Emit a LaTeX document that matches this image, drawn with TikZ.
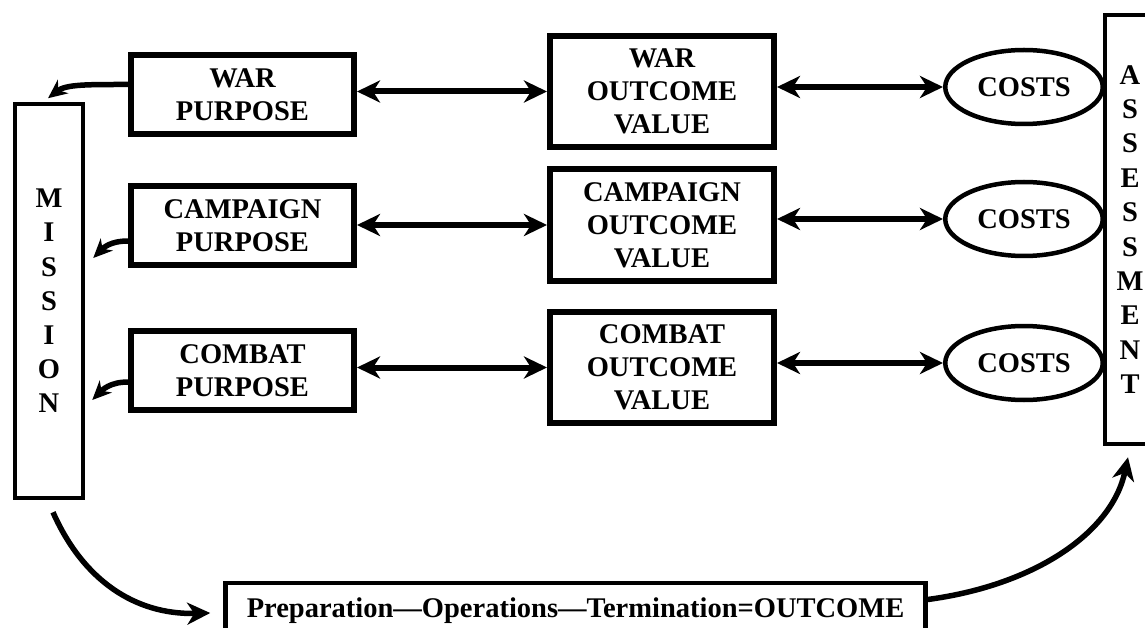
\documentclass[tikz,border=0pt]{standalone}
\usepackage{fontspec}
\setmainfont{Liberation Serif}
\usetikzlibrary{shapes.geometric,arrows.meta,calc}

\begin{document}
\begin{tikzpicture}[x=1pt,y=-1pt,
  txt/.style={font=\bfseries\fontsize{28.5}{33}\selectfont, align=center, inner sep=0pt},
  pbox/.style={txt, draw, line width=6pt, minimum width=223pt, minimum height=79pt},
  obox/.style={txt, draw, line width=6pt, minimum width=224pt, minimum height=111pt},
  costs/.style={txt, draw, ellipse, line width=4.5pt, minimum width=157.5pt, minimum height=74pt},
  tallbox/.style={draw, line width=4.5pt, align=center, inner sep=0pt},
  letters/.style={font=\bfseries\fontsize{28.5}{#1}\selectfont},
  flowbox/.style={txt, draw, line width=4.5pt, minimum width=700pt, minimum height=55pt},
  bigtip/.tip={Stealth[length=23pt,width=22pt,inset=7pt]},
  smalltip/.tip={Stealth[length=19pt,width=17pt,inset=6pt]},
  link/.style={line width=6pt, bigtip-bigtip},
  feed/.style={line width=5.5pt, -smalltip},
  loop/.style={line width=5.5pt, -bigtip}
]
\useasboundingbox (0,0) rectangle (1145,628);
\clip (0,0) rectangle (1145,628);
\fill[white] (0,0) rectangle (1145,628);

% side columns
\node[tallbox, letters=34.2, minimum width=68pt, minimum height=394pt] (mi) at (49,301)
  {M\\I\\S\\S\\I\\O\\N};
\node[tallbox, letters=34.4, minimum width=50pt, minimum height=429pt] (as) at (1130,229.5)
  {A\\S\\S\\E\\S\\S\\M\\E\\N\\T};

% purpose boxes
\node[pbox] (wp) at (242.5,94.5) {WAR\\PURPOSE};
\node[pbox] (cp) at (242.5,226) {CAMPAIGN\\PURPOSE};
\node[pbox] (bp) at (242.5,370.5) {COMBAT\\PURPOSE};

% outcome value boxes
\node[obox] (wo) at (662,91.5) {WAR\\OUTCOME\\VALUE};
\node[obox] (co) at (662,225) {CAMPAIGN\\OUTCOME\\VALUE};
\node[obox] (bo) at (662,367.5) {COMBAT\\OUTCOME\\VALUE};

% cost ellipses
\node[costs] (c1) at (1024,87) {COSTS};
\node[costs] (c2) at (1024,219) {COSTS};
\node[costs] (c3) at (1024,363) {COSTS};

% process box along the bottom
\node[flowbox] (bb) at (575.5,610.5) {Preparation---Operations---Termination=OUTCOME};

% two-way links along each row
\draw[link] (wp.east |- wo.west) -- (wo.west);
\draw[link] (cp.east |- co.west) -- (co.west);
\draw[link] (bp.east |- bo.west) -- (bo.west);
\draw[link] (wo.east |- c1.west) -- (c1.west);
\draw[link] (co.east |- c2.west) -- (c2.west);
\draw[link] (bo.east |- c3.west) -- (c3.west);

% purposes feeding the mission
\coordinate (t1) at ($(mi.north)+(-1,-3.5)$);
\coordinate (t2) at ($(mi.east)+(8,-43)$);
\coordinate (t3) at ($(mi.east)+(7,99)$);
\draw[feed] ([yshift=10pt]wp.west) .. controls +(-40,0) and +(18,-14) .. (t1);
\draw[feed] ([yshift=-15pt]cp.west) .. controls +(-18,0) and +(10,-10) .. (t2);
\draw[feed] ([yshift=-11.5pt]bp.west) .. controls +(-18,0) and +(10,-10) .. (t3);

% mission -> process -> assessment
\coordinate (s4) at ($(mi.south)+(4,12)$);
\coordinate (t4) at ($(bb.west)+(-13,2.5)$);
\coordinate (t5) at ($(as.south)+(-2,11)$);
\draw[loop] (s4) .. controls +(30,68) and +(-75,2) .. (t4);
\draw[loop] ([yshift=11pt]bb.east) .. controls +(108,-14.5) and +(-16,75) .. (t5);
\end{tikzpicture}
\end{document}
